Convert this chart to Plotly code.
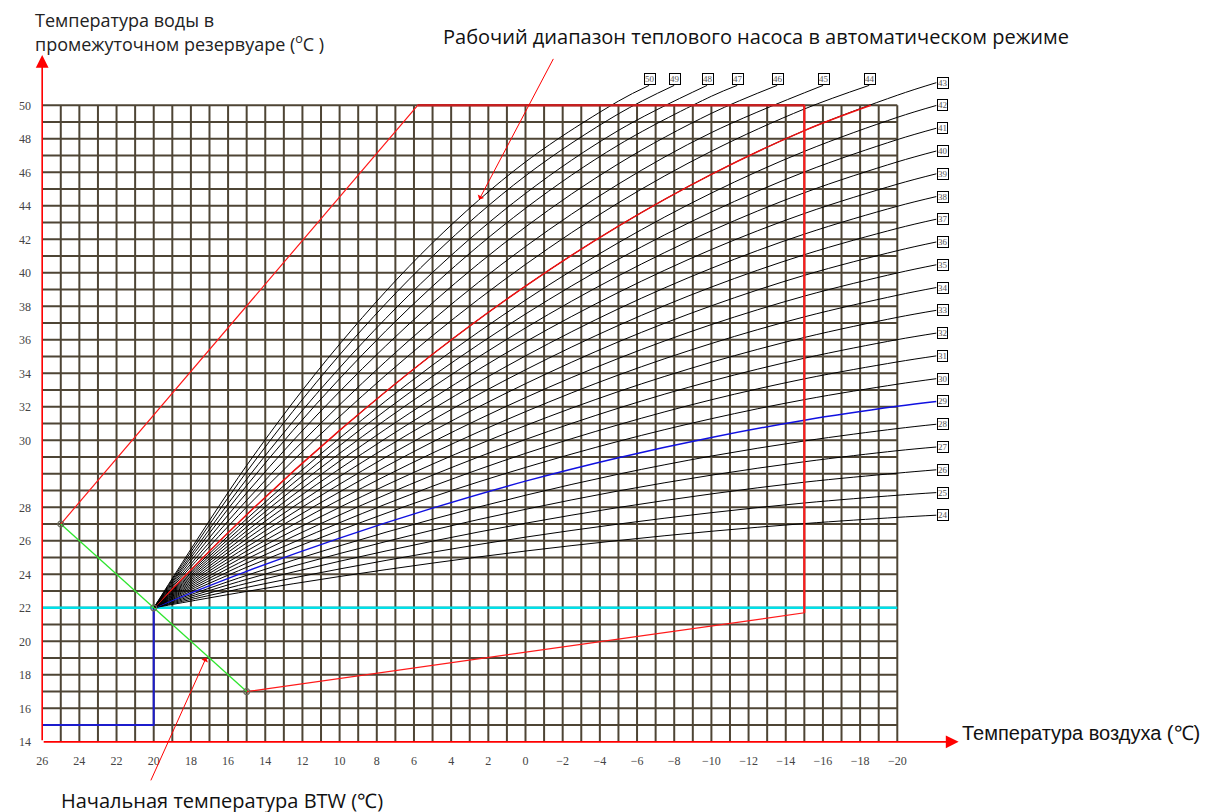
import numpy as np
import plotly.graph_objects as go

# ---------------- axis ticks ----------------
X_TICKS = [26, 24, 22, 20, 18, 16, 14, 12, 10, 8, 6, 4, 2, 0,
           -2, -4, -6, -8, -10, -12, -14, -16, -18, -20]
Y_TICKS = [14, 16, 18, 20, 22, 24, 26, 28, 30, 32, 34, 36, 38, 40,
           42, 44, 46, 48, 50]

# broken water-temperature scale (28 -> 30 is stretched on the original sheet)
Y_BREAK_VALUES = [14, 28, 30, 50]
Y_BREAK_ROWS = [0, 14, 18, 38]

# ---------------- characteristic curves ----------------
CURVE_LABELS = list(range(24, 51))
AIR_SAMPLES = [20, 15, 10, 5, 0, -5, -10, -15, -20]

CURVE_WATER = [
    [22, 22.98, 23.87, 24.67, 25.39, 26.02, 26.57, 27.03, 27.40],   # 24
    [22, 23.22, 24.32, 25.32, 26.22, 27.00, 27.68, 28.13, 28.36],   # 25
    [22, 23.46, 24.78, 25.98, 27.05, 27.99, 28.40, 28.75, 29.02],   # 26
    [22, 23.70, 25.24, 26.64, 27.88, 28.49, 28.96, 29.36, 29.69],   # 27
    [22, 23.94, 25.70, 27.29, 28.36, 28.99, 29.53, 29.98, 30.70],   # 28
    [22, 24.18, 26.16, 27.95, 28.78, 29.48, 30.17, 31.20, 32.03],   # 29
    [22, 24.42, 26.62, 28.31, 29.19, 29.97, 31.29, 32.43, 33.35],   # 30
    [22, 24.67, 27.08, 28.63, 29.61, 30.93, 32.42, 33.67, 34.68],   # 31
    [22, 24.91, 27.54, 28.96, 30.05, 31.92, 33.54, 34.90, 36.01],   # 32
    [22, 25.15, 28.00, 29.29, 30.88, 32.91, 34.66, 36.14, 37.34],   # 33
    [22, 25.39, 28.23, 29.62, 31.71, 33.90, 35.78, 37.37, 38.66],   # 34
    [22, 25.63, 28.46, 29.95, 32.55, 34.89, 36.91, 38.61, 39.99],   # 35
    [22, 25.87, 28.69, 30.55, 33.38, 35.88, 38.03, 39.85, 41.32],   # 36
    [22, 26.11, 28.92, 31.21, 34.21, 36.86, 39.15, 41.08, 42.65],   # 37
    [22, 26.35, 29.15, 31.86, 35.04, 37.85, 40.27, 42.31, 43.97],   # 38
    [22, 26.59, 29.38, 32.51, 35.88, 38.83, 41.39, 43.54, 45.29],   # 39
    [22, 26.83, 29.61, 33.17, 36.71, 39.82, 42.51, 44.78, 46.62],   # 40
    [22, 27.07, 29.84, 33.83, 37.54, 40.81, 43.63, 46.02, 47.95],   # 41
    [22, 27.31, 30.13, 34.49, 38.37, 41.80, 44.76, 47.25, 49.28],   # 42
    [22, 27.56, 30.59, 35.14, 39.21, 42.79, 45.88, 48.49, 50.60],   # 43
    [22, 28.01, 31.42, 36.25, 40.50, 44.18, 47.26, 49.78],          # 44
    [22, 28.21, 32.12, 37.18, 41.57, 45.30, 48.37],                 # 45
    [22, 28.43, 32.91, 38.21, 42.74, 46.51, 49.52],                 # 46
    [22, 28.65, 33.68, 39.20, 43.85, 47.63, 50.54],                 # 47
    [22, 28.84, 34.33, 40.02, 44.74, 48.50],                        # 48
    [22, 29.06, 35.10, 40.99, 45.79, 49.49],                        # 49
    [22, 29.25, 35.74, 41.79, 46.62, 50.25],                        # 50
]
# where each curve meets its label box
END_AIR = [-22.1] * 20 + [-18.49, -16.01, -13.54, -11.39, -9.77, -8.0, -6.65]
END_WATER = [27.53, 28.44, 29.12, 29.80, 30.96, 32.32, 33.68, 35.04, 36.40,
             37.76, 39.12, 40.48, 41.84, 43.20, 44.55, 45.91, 47.27, 48.63,
             49.99, 51.35, 51.19, 51.19, 51.19, 51.19, 51.19, 51.19, 51.19]
BLUE_CURVE = 29
RED_CURVE = 43

# ---------------- construction lines ----------------
GREEN_AIR = [25, 20, 15]
GREEN_WATER = [27, 22, 17]
ENV_AIR = [25, 5.8, -15, -15, 15]          # working-range envelope
ENV_WATER = [27, 50, 50, 21.7, 17]
BTW_AIR = [26, 20, 20]
BTW_WATER = [15, 15, 22]
CYAN_AIR = [26, -20]
CYAN_WATER = [22, 22]

GRID_COLOR = "#4e4535"
SERIF = "Liberation Serif"
SANS = "Open Sans"


def yrow(v):
    v = np.asarray(v, dtype=float)
    r = np.interp(v, Y_BREAK_VALUES, Y_BREAK_ROWS)
    r = np.where(v > Y_BREAK_VALUES[-1], Y_BREAK_ROWS[-1] + (v - Y_BREAK_VALUES[-1]), r)
    r = np.where(v < Y_BREAK_VALUES[0], Y_BREAK_ROWS[0] + (v - Y_BREAK_VALUES[0]), r)
    return r


fig = go.Figure()

# grid (1 degree columns, 1 row lines) between 26..-20 and 14..50
top_row = float(yrow(Y_TICKS[-1]))
left_air, right_air = X_TICKS[0], X_TICKS[-1]
gx, gy = [], []
for a in range(left_air - 1, right_air - 1, -1):
    gx += [a, a, None]
    gy += [0, top_row, None]
for r in range(1, int(top_row) + 1):
    gx += [left_air, right_air, None]
    gy += [r, r, None]
fig.add_trace(go.Scatter(x=gx, y=gy, mode="lines",
                         line=dict(color=GRID_COLOR, width=2), hoverinfo="skip"))

# cyan initial line
fig.add_trace(go.Scatter(x=CYAN_AIR, y=yrow(CYAN_WATER), mode="lines",
                         line=dict(color="#00e0e8", width=2.5)))
# BTW blue lines
fig.add_trace(go.Scatter(x=BTW_AIR, y=yrow(BTW_WATER), mode="lines",
                         line=dict(color="#1c1ccc", width=2)))

# fan curves
for lab, wat, ea, ew in zip(CURVE_LABELS, CURVE_WATER, END_AIR, END_WATER):
    xs = AIR_SAMPLES[:len(wat)] + [ea]
    ys = list(yrow(wat + [ew]))
    col = "#1010e0" if lab == BLUE_CURVE else "black"
    w = 1.4 if lab == BLUE_CURVE else 1
    fig.add_trace(go.Scatter(x=xs, y=ys, mode="lines", line_shape="spline",
                             line=dict(color=col, width=w)))
    if lab == RED_CURVE:
        wv = np.array(wat + [ew])
        av = np.array(xs, dtype=float)
        inside = wv <= Y_BREAK_VALUES[-1]
        exit_air = float(np.interp(Y_BREAK_VALUES[-1], wv, av))
        rx = list(av[inside]) + [exit_air]
        ry = list(yrow(list(wv[inside]) + [Y_BREAK_VALUES[-1]]))
        fig.add_trace(go.Scatter(x=rx, y=ry, mode="lines", line_shape="spline",
                                 line=dict(color="#ee1111", width=1.5)))

# envelope of working range
fig.add_trace(go.Scatter(x=ENV_AIR, y=yrow(ENV_WATER), mode="lines",
                         line=dict(color="#ff1a1a", width=1.2)))
fig.add_trace(go.Scatter(x=ENV_AIR[1:3], y=yrow(ENV_WATER[1:3]), mode="lines",
                         line=dict(color="#c42020", width=2.4)))
fig.add_trace(go.Scatter(x=ENV_AIR[2:4], y=yrow(ENV_WATER[2:4]), mode="lines",
                         line=dict(color="#ff1a1a", width=2)))

# green line with markers
fig.add_trace(go.Scatter(x=GREEN_AIR, y=yrow(GREEN_WATER), mode="lines+markers",
                         line=dict(color="#2ee52e", width=1.3),
                         marker=dict(symbol="circle-open", size=6,
                                     color="#6a6a5a", line=dict(width=1.2))))

annotations = []
# label boxes
for lab, ea, ew in zip(CURVE_LABELS, END_AIR, END_WATER):
    top = lab > RED_CURVE
    annotations.append(dict(
        x=ea, y=float(yrow(ew)), xref="x", yref="y", text=str(lab),
        showarrow=False, xanchor="left", yanchor="bottom" if top else "middle",
        xshift=-5 if top else 1, yshift=0,
        font=dict(family=SERIF, size=9, color="#555555"),
        bordercolor="black", borderwidth=1, borderpad=0, bgcolor="white"))

# axis arrows
annotations.append(dict(x=X_TICKS[0], y=41.0, ax=X_TICKS[0], ay=0, xref="x", yref="y",
                        axref="x", ayref="y", text="", showarrow=True, arrowhead=2,
                        arrowsize=1.6, arrowwidth=1.6, arrowcolor="#ff0000"))
annotations.append(dict(x=-23.3, y=0, ax=X_TICKS[0], ay=0, xref="x", yref="y",
                        axref="x", ayref="y", text="", showarrow=True, arrowhead=2,
                        arrowsize=1.6, arrowwidth=1.6, arrowcolor="#ff0000"))
# pointer arrows
annotations.append(dict(x=2.49, y=32.38, ax=-1.54, ay=40.86, xref="x", yref="y",
                        axref="x", ayref="y", text="", showarrow=True, arrowhead=1,
                        arrowsize=1.2, arrowwidth=1, arrowcolor="#ff0000"))
annotations.append(dict(x=17.18, y=5.02, ax=20.19, ay=-2.39, xref="x", yref="y",
                        axref="x", ayref="y", text="", showarrow=True, arrowhead=1,
                        arrowsize=1.2, arrowwidth=1, arrowcolor="#ff0000"))
# texts (paper coordinates: plot area spans 1004 x 696.6 px)
annotations.append(dict(x=-0.009, y=1.0365, xref="paper", yref="paper", showarrow=False,
                        xanchor="left", yanchor="middle",
                        text="Температура воды в",
                        font=dict(family=SANS, size=18, color="#222")))
annotations.append(dict(x=-0.009, y=1.0034, xref="paper", yref="paper", showarrow=False,
                        xanchor="left", yanchor="middle",
                        text="промежуточном резервуаре (<sup>o</sup>C )",
                        font=dict(family=SANS, size=18, color="#222")))
annotations.append(dict(x=0.7107, y=1.012, xref="paper", yref="paper", showarrow=False,
                        xanchor="center", yanchor="middle",
                        text="Рабочий диапазон теплового насоса в автоматическом режиме",
                        font=dict(family=SANS, size=20, color="#111")))
annotations.append(dict(x=0.0169, y=-0.0833, xref="paper", yref="paper", showarrow=False,
                        xanchor="left", yanchor="middle",
                        text="Начальная температура BTW (℃)",
                        font=dict(family=SANS, size=20, color="#111")))
annotations.append(dict(x=0.914, y=0.0129, xref="paper", yref="paper", showarrow=False,
                        xanchor="left", yanchor="middle",
                        text="Температура воздуха (℃)",
                        font=dict(family="Liberation Sans", size=20, color="#111")))

x_text = [str(v).replace("-", "−") for v in X_TICKS]

fig.update_layout(
    width=1220, height=812,
    margin=dict(l=34, r=182, t=37.4, b=78),
    paper_bgcolor="white", plot_bgcolor="white",
    showlegend=False,
    annotations=annotations,
    xaxis=dict(range=[26.01, -28], showgrid=False, zeroline=False, showline=False,
               tickvals=X_TICKS, ticktext=x_text, ticks="", ticklabelstandoff=10,
               tickfont=dict(family=SERIF, size=12, color="#444")),
    yaxis=dict(range=[-0.01, 41.6], showgrid=False, zeroline=False, showline=False,
               tickvals=list(yrow(Y_TICKS)), ticktext=[str(v) for v in Y_TICKS],
               ticks="", ticklabelstandoff=10,
               tickfont=dict(family=SERIF, size=12, color="#444")),
)

fig.write_html("out.html")
